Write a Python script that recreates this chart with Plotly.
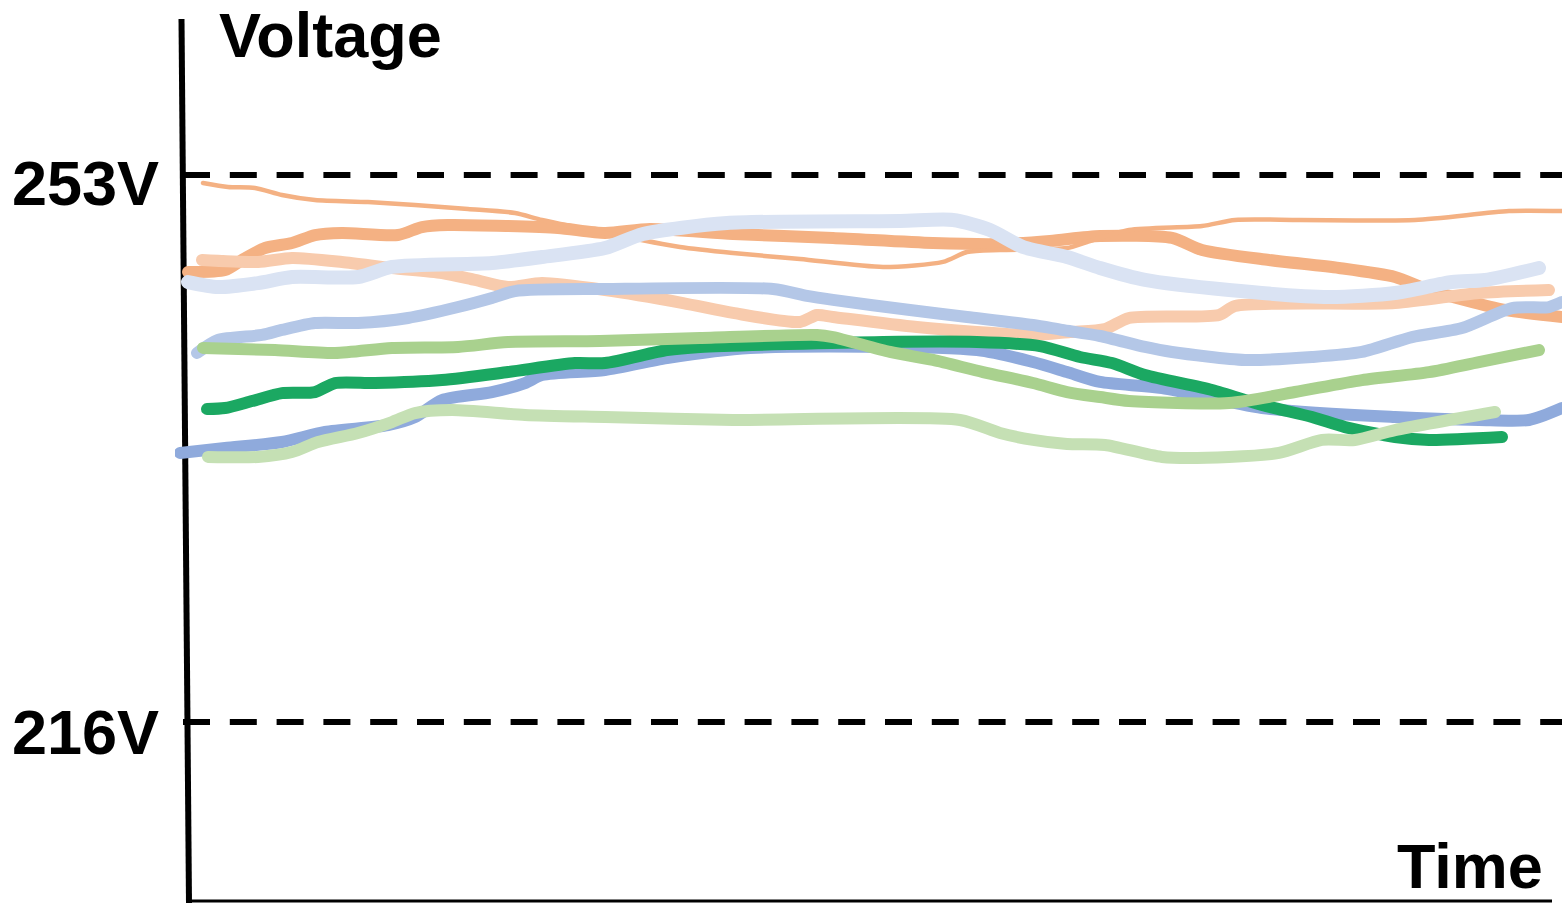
import plotly.graph_objects as go

# ---- data (time in arbitrary units, voltage in V) ----
thin_orange_t = [18, 43, 70, 97, 130, 183, 230, 283, 330, 357, 420, 495, 548, 615, 698, 758, 782, 815, 882, 902, 944, 1017, 1050, 1115, 1230, 1324, 1377]
thin_orange_v = [252.46, 252.19, 252.12, 251.65, 251.31, 251.17, 250.97, 250.70, 250.43, 249.96, 249.08, 248.13, 247.72, 247.32, 246.78, 247.12, 247.79, 247.93, 248.06, 248.47, 249.28, 249.55, 249.96, 249.96, 249.96, 250.56, 250.56]

thick_orange_t = [3, 40, 57, 80, 107, 130, 157, 213, 237, 263, 323, 373, 420, 465, 548, 648, 748, 815, 865, 915, 987, 1017, 1084, 1154, 1210, 1244, 1320, 1377]
thick_orange_v = [246.44, 246.57, 247.25, 248.06, 248.40, 248.94, 249.08, 248.94, 249.48, 249.62, 249.55, 249.42, 249.08, 249.35, 249.01, 248.74, 248.40, 248.33, 248.54, 248.87, 248.74, 247.93, 247.25, 246.71, 246.10, 245.22, 243.87, 243.40]

peach_t = [17, 73, 107, 157, 207, 257, 290, 323, 357, 420, 498, 548, 615, 632, 648, 732, 848, 885, 920, 944, 1034, 1050, 1210, 1294, 1364]
peach_v = [247.25, 247.12, 247.39, 247.12, 246.71, 246.37, 245.90, 245.42, 245.69, 245.22, 244.34, 243.67, 243.06, 243.53, 243.40, 242.72, 242.18, 242.38, 242.58, 243.33, 243.53, 244.14, 244.34, 245.02, 245.22]

pale_blue_t = [3, 33, 73, 107, 173, 207, 307, 357, 420, 458, 542, 715, 768, 805, 838, 882, 915, 960, 1044, 1144, 1210, 1267, 1300, 1354]
pale_blue_v = [245.76, 245.42, 245.69, 246.10, 246.10, 246.78, 247.05, 247.45, 248.06, 249.01, 249.75, 249.89, 249.96, 249.28, 248.13, 247.45, 246.71, 245.90, 245.22, 244.75, 245.02, 245.76, 245.90, 246.71]

light_blue_t = [12, 33, 77, 97, 130, 173, 223, 273, 307, 330, 420, 588, 622, 648, 725, 782, 848, 877, 915, 960, 987, 1060, 1127, 1177, 1227, 1277, 1327, 1364, 1377]
light_blue_v = [240.96, 241.84, 242.18, 242.52, 242.99, 242.99, 243.33, 244.07, 244.68, 245.15, 245.29, 245.29, 244.82, 244.55, 243.87, 243.40, 242.85, 242.52, 242.11, 241.37, 241.03, 240.49, 240.69, 241.03, 242.04, 242.65, 244.00, 244.07, 244.41]

blue_t = [-5, 40, 97, 140, 203, 230, 257, 307, 340, 357, 420, 482, 565, 792, 848, 882, 915, 977, 1077, 1210, 1294, 1344, 1377]
blue_v = [234.20, 234.53, 234.94, 235.62, 236.09, 236.63, 237.78, 238.32, 238.93, 239.47, 239.81, 240.62, 241.30, 241.16, 240.35, 239.67, 239.00, 238.59, 237.24, 236.63, 236.43, 236.43, 237.24]

dark_green_t = [22, 40, 67, 97, 130, 150, 190, 257, 323, 390, 420, 482, 515, 698, 792, 855, 895, 927, 960, 1027, 1077, 1127, 1160, 1210, 1244, 1317]
dark_green_v = [237.17, 237.24, 237.71, 238.25, 238.32, 238.93, 238.93, 239.13, 239.67, 240.28, 240.28, 241.16, 241.37, 241.70, 241.70, 241.43, 240.69, 240.28, 239.47, 238.46, 237.44, 236.63, 235.95, 235.28, 235.08, 235.28]

green_t = [18, 90, 150, 207, 273, 323, 415, 515, 632, 648, 705, 748, 798, 848, 882, 915, 944, 1044, 1110, 1177, 1244, 1294, 1354]
green_v = [241.30, 241.16, 240.96, 241.30, 241.37, 241.70, 241.77, 241.97, 242.18, 242.04, 241.03, 240.49, 239.67, 238.93, 238.32, 237.98, 237.71, 237.58, 238.32, 239.13, 239.67, 240.35, 241.16]

pale_green_t = [23, 73, 107, 133, 173, 207, 230, 267, 340, 420, 548, 775, 815, 848, 882, 920, 977, 1044, 1094, 1137, 1170, 1210, 1310]
pale_green_v = [233.93, 233.93, 234.26, 234.94, 235.55, 236.29, 236.90, 237.10, 236.77, 236.63, 236.43, 236.43, 235.55, 235.08, 234.80, 234.74, 233.93, 233.93, 234.20, 235.08, 235.08, 235.75, 236.97]

limit_values = [253, 216]
limit_labels = ["253V", "216V"]

series = [
    (thick_orange_t, thick_orange_v, "#F4B183", 12),
    (thin_orange_t, thin_orange_v, "#F4B183", 4.5),
    (peach_t, peach_v, "#F8CBAD", 12),
    (pale_blue_t, pale_blue_v, "#DAE3F3", 14),
    (light_blue_t, light_blue_v, "#B4C7E7", 12),
    (blue_t, blue_v, "#8FAADC", 12),
    (dark_green_t, dark_green_v, "#1BA862", 12),
    (green_t, green_v, "#A9D18E", 12),
    (pale_green_t, pale_green_v, "#C5E0B4", 12),
]

fig = go.Figure()
for t, v, c, w in series:
    fig.add_trace(go.Scatter(x=t, y=v, mode="lines",
                             line=dict(color=c, width=w, shape="spline", smoothing=0.7),
                             hoverinfo="skip", showlegend=False))

FONT = "Liberation Sans, Arial, sans-serif"
PLOT_L = 175.0
PLOT_W = 1387.0  # plot-area width in px, 1 time unit = 1 px

shapes = [
    dict(type="line", xref="x", yref="y", x0=-3.5, y0=263.55, x1=4, y1=203.76,
         line=dict(color="black", width=6), layer="below"),
    dict(type="line", xref="x", yref="y", x0=5, y0=203.89, x1=1367, y1=203.89,
         line=dict(color="black", width=3), layer="below"),
]
for val in limit_values:
    shapes.append(dict(type="line", xref="x", yref="y", x0=-2, y0=val, x1=1377, y1=val,
                       line=dict(color="black", width=6, dash="27px,19.8px"), layer="below"))

label_y = [252.45, 215.31]
annotations = []
for lab, yv in zip(limit_labels, label_y):
    annotations.append(dict(x=(160 - PLOT_L) / PLOT_W, y=yv, xref="paper", yref="y",
                            text="<b>" + lab + "</b>", showarrow=False, borderpad=0,
                            xanchor="right", yanchor="middle",
                            font=dict(family=FONT, size=63, color="black")))
annotations += [
    dict(x=(218 - PLOT_L) / PLOT_W, y=262.46, xref="paper", yref="y", text="<b>Voltage</b>",
         showarrow=False, borderpad=0, xanchor="left", yanchor="middle",
         font=dict(family=FONT, size=63, color="black")),
    dict(x=(1544 - PLOT_L) / PLOT_W, y=206.25, xref="paper", yref="y", text="<b>Time</b>",
         showarrow=False, borderpad=0, xanchor="right", yanchor="middle",
         font=dict(family=FONT, size=63, color="black")),
]

fig.update_layout(
    width=1562, height=904,
    margin=dict(l=175, r=0, t=18, b=0, pad=0),
    paper_bgcolor="white", plot_bgcolor="white",
    xaxis=dict(range=[-10, 1377], visible=False, fixedrange=True),
    yaxis=dict(range=[203.69, 263.62], visible=False, fixedrange=True),
    shapes=shapes, annotations=annotations, showlegend=False,
)

post = (
    "document.body.style.margin='0px';"
    "document.querySelectorAll('.scatterlayer path.js-line').forEach(function(p){"
    "p.style.strokeLinecap='round';p.style.strokeLinejoin='round';});"
)
fig.write_html("out.html", config={"displayModeBar": False}, post_script=post)
